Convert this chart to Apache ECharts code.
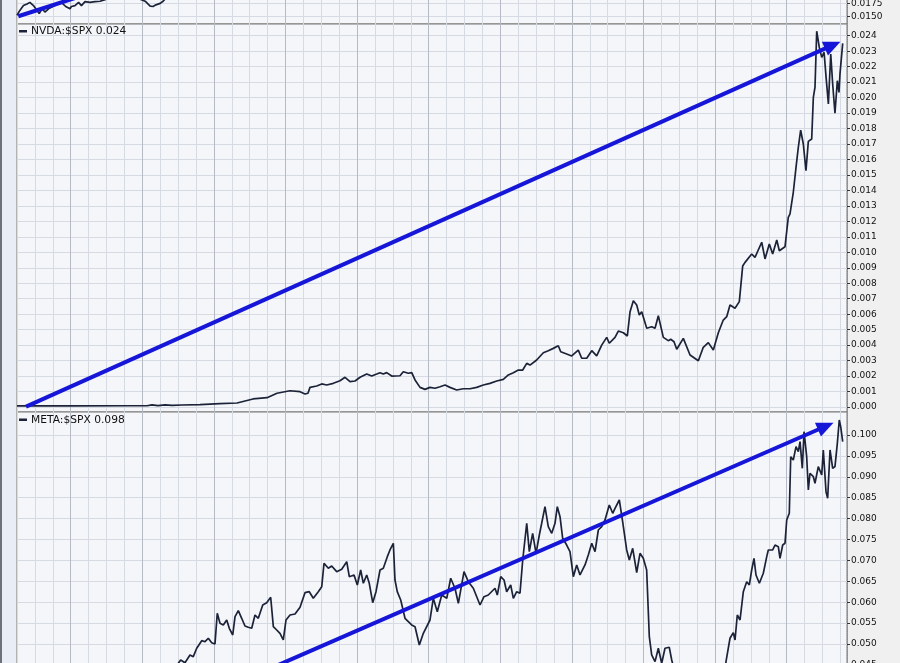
<!DOCTYPE html>
<html><head><meta charset="utf-8">
<script src="https://cdn.jsdelivr.net/npm/echarts@6/dist/echarts.min.js"></script>
<style>html,body{margin:0;padding:0;width:900px;height:663px;overflow:hidden;background:#f0f0f0}
#c{position:absolute;left:0;top:-40px;width:900px;height:740px}</style>
</head><body><div id="c"></div>
<script>
// ---- data (x = decimal year, y = price ratio) ----
const topYears  = [2013.25,2013.29,2013.34,2013.39,2013.43,2013.48,2013.53,2013.56,2013.60,2013.64,2013.69,2013.73,2013.78,2013.83,2013.87,2013.93,2013.99,2014.01,2014.06,2014.11,2014.15,2014.20,2014.27,2014.34,2014.41,2014.48,2014.62,2014.83,2014.97,2015.04,2015.11,2015.15,2015.19,2015.25,2015.29,2015.40];
const topValues = [0.01519,0.01613,0.01706,0.01738,0.01768,0.01706,0.01613,0.0155,0.01644,0.01581,0.01644,0.01674,0.01706,0.01749,0.01768,0.01688,0.01644,0.01688,0.01706,0.01768,0.01706,0.01781,0.01768,0.01781,0.0179,0.0182,0.0195,0.0190,0.0183,0.0179,0.01697,0.01688,0.0172,0.01749,0.0179,0.0195];

const nvdaYears = [2013.25,2014.0,2014.8,2015.066,2015.135,2015.219,2015.317,2015.415,2015.554,2015.806,2016.085,2016.323,2016.546,2016.742,2016.881,2017.063,2017.203,2017.272,2017.314,2017.342,2017.436,2017.506,2017.575,2017.668,2017.761,2017.831,2017.901,2017.971,2018.041,2018.134,2018.204,2018.274,2018.320,2018.366,2018.413,2018.483,2018.599,2018.645,2018.715,2018.763,2018.809,2018.879,2018.948,2019.018,2019.088,2019.158,2019.228,2019.297,2019.391,2019.483,2019.577,2019.670,2019.763,2019.856,2019.950,2020.042,2020.112,2020.182,2020.252,2020.313,2020.369,2020.415,2020.508,2020.601,2020.670,2020.740,2020.810,2020.844,2020.927,2020.997,2021.089,2021.137,2021.207,2021.277,2021.346,2021.416,2021.486,2021.522,2021.602,2021.648,2021.718,2021.774,2021.812,2021.858,2021.905,2021.941,2021.975,2022.045,2022.114,2022.161,2022.207,2022.277,2022.346,2022.380,2022.426,2022.464,2022.556,2022.650,2022.766,2022.835,2022.905,2022.975,2023.045,2023.114,2023.162,2023.208,2023.278,2023.338,2023.385,2023.418,2023.511,2023.557,2023.651,2023.697,2023.757,2023.804,2023.861,2023.897,2023.976,2023.999,2024.022,2024.046,2024.092,2024.130,2024.162,2024.195,2024.232,2024.269,2024.302,2024.349,2024.372,2024.395,2024.419,2024.455,2024.489,2024.522,2024.550,2024.582,2024.615,2024.642,2024.674,2024.707,2024.730,2024.744,2024.782];
const nvdaValues = [0.00007,0.00007,0.00008,0.00008,0.00014,0.00009,0.00014,0.0001,0.00013,0.00016,0.00022,0.00026,0.00052,0.0006,0.00089,0.00105,0.00099,0.00084,0.00089,0.00127,0.00136,0.00149,0.00142,0.00153,0.0017,0.00192,0.00164,0.00168,0.00192,0.00213,0.002,0.00213,0.00222,0.00213,0.00222,0.002,0.00202,0.00228,0.00218,0.00222,0.00175,0.00127,0.00114,0.00127,0.00121,0.00131,0.00142,0.00127,0.0011,0.00118,0.00118,0.00127,0.00142,0.00153,0.00168,0.00179,0.00207,0.00222,0.00239,0.00239,0.00282,0.00271,0.00304,0.00351,0.00364,0.00379,0.00396,0.00357,0.00343,0.0033,0.00368,0.00315,0.00315,0.00364,0.0033,0.004,0.0045,0.00412,0.0045,0.00491,0.0048,0.00459,0.00616,0.00687,0.00659,0.00595,0.00616,0.00509,0.00519,0.00509,0.0059,0.0045,0.00429,0.00438,0.00422,0.00373,0.00444,0.00336,0.00299,0.00386,0.00416,0.00368,0.0048,0.00562,0.00584,0.00659,0.00638,0.00681,0.00911,0.00935,0.00989,0.00967,0.01065,0.00957,0.01054,0.00989,0.0108,0.0101,0.01036,0.01032,0.01226,0.01248,0.01388,0.01549,0.01678,0.0179,0.017,0.01527,0.01717,0.01732,0.02002,0.02067,0.02429,0.02325,0.0226,0.02293,0.02131,0.01959,0.02282,0.02088,0.01899,0.02109,0.02034,0.02153,0.02351];

const metaYears = [2013.25,2013.75,2014.25,2014.75,2015.0,2015.3,2015.45,2015.503,2015.536,2015.596,2015.666,2015.712,2015.760,2015.830,2015.876,2015.922,2015.969,2016.015,2016.047,2016.085,2016.131,2016.179,2016.215,2016.263,2016.295,2016.341,2016.388,2016.434,2016.480,2016.528,2016.574,2016.620,2016.682,2016.737,2016.793,2016.830,2016.877,2016.923,2016.969,2017.007,2017.063,2017.133,2017.203,2017.272,2017.332,2017.388,2017.458,2017.506,2017.538,2017.598,2017.645,2017.715,2017.785,2017.855,2017.891,2017.957,2018.003,2018.050,2018.087,2018.134,2018.170,2018.218,2018.264,2018.320,2018.366,2018.422,2018.459,2018.506,2018.529,2018.561,2018.609,2018.669,2018.762,2018.809,2018.869,2018.925,2019.018,2019.064,2019.120,2019.182,2019.252,2019.307,2019.367,2019.414,2019.493,2019.553,2019.623,2019.717,2019.772,2019.832,2019.926,2019.958,2020.006,2020.052,2020.089,2020.145,2020.182,2020.229,2020.275,2020.313,2020.369,2020.405,2020.452,2020.499,2020.545,2020.578,2020.624,2020.670,2020.718,2020.764,2020.796,2020.834,2020.871,2020.927,2020.973,2021.020,2021.067,2021.113,2021.183,2021.229,2021.277,2021.323,2021.369,2021.416,2021.462,2021.522,2021.570,2021.602,2021.662,2021.709,2021.765,2021.802,2021.849,2021.905,2021.951,2021.997,2022.044,2022.081,2022.114,2022.161,2022.207,2022.254,2022.300,2022.360,2022.394,2022.440,2022.50,2022.60,2022.70,2022.80,2022.87,2022.95,2023.05,2023.12,2023.152,2023.208,2023.254,2023.278,2023.310,2023.348,2023.394,2023.441,2023.478,2023.511,2023.543,2023.571,2023.618,2023.673,2023.721,2023.743,2023.804,2023.837,2023.883,2023.906,2023.944,2023.976,2024.000,2024.036,2024.056,2024.092,2024.130,2024.162,2024.186,2024.218,2024.242,2024.279,2024.302,2024.325,2024.372,2024.395,2024.441,2024.489,2024.511,2024.549,2024.572,2024.605,2024.642,2024.674,2024.707,2024.734,2024.754,2024.782];
const metaValues = [0.017,0.028,0.033,0.037,0.038,0.040,0.043,0.04538,0.04617,0.04553,0.04737,0.04696,0.04897,0.05079,0.05055,0.05137,0.05031,0.05000,0.05735,0.05495,0.05455,0.05574,0.05376,0.05215,0.05653,0.05797,0.05615,0.05431,0.05400,0.05376,0.05694,0.05615,0.05933,0.05988,0.06117,0.05414,0.05335,0.05256,0.05096,0.05574,0.05694,0.05718,0.05878,0.06227,0.06251,0.06093,0.06251,0.06371,0.06931,0.06811,0.06866,0.06730,0.06787,0.06969,0.06610,0.06651,0.06412,0.06770,0.06452,0.06651,0.06452,0.05988,0.06251,0.06770,0.06811,0.07089,0.07249,0.07409,0.06531,0.06251,0.06053,0.05615,0.05455,0.05414,0.04976,0.05256,0.05574,0.06093,0.05773,0.06172,0.06093,0.06572,0.06333,0.05974,0.06730,0.06491,0.06333,0.05933,0.06132,0.06172,0.06333,0.06172,0.06610,0.06531,0.06251,0.06412,0.06093,0.06251,0.06213,0.07010,0.07888,0.07208,0.07648,0.07170,0.07608,0.07888,0.08285,0.07806,0.07648,0.07888,0.08285,0.08045,0.07529,0.07368,0.07208,0.06610,0.06890,0.06651,0.06890,0.07129,0.07409,0.07208,0.07727,0.07806,0.07967,0.08325,0.08127,0.08246,0.08445,0.07919,0.07249,0.07010,0.07290,0.06706,0.07170,0.07050,0.06770,0.05175,0.04737,0.04577,0.04897,0.04538,0.04897,0.04921,0.04617,0.043,0.0415,0.042,0.037,0.026,0.024,0.030,0.038,0.041,0.04577,0.05137,0.05271,0.05096,0.05694,0.05574,0.06251,0.06491,0.06412,0.06770,0.07050,0.06651,0.06452,0.06692,0.07089,0.07249,0.07249,0.07368,0.07328,0.07050,0.07368,0.07409,0.07967,0.08127,0.09481,0.09402,0.09720,0.09600,0.09840,0.09203,0.10079,0.09481,0.08684,0.09084,0.09002,0.08845,0.09242,0.09043,0.09641,0.08644,0.08486,0.09641,0.09203,0.09242,0.09801,0.10359,0.10199,0.09840];

// trend-arrow annotations: [startYear, startValue, endYear, endValue]
const topArrow  = [2013.268, 0.0150, 2015.205, 0.02363];
const nvdaArrow = [2013.376, 0.00002, 2024.642, 0.02339];
const metaArrow = [2016.078, 0.03883, 2024.545, 0.1021];

// tick labels
const topTicks  = [0.0150, 0.0175, 0.0200, 0.0225, 0.0250];
const nvdaTicks = [0.000,0.001,0.002,0.003,0.004,0.005,0.006,0.007,0.008,0.009,0.010,0.011,0.012,0.013,0.014,0.015,0.016,0.017,0.018,0.019,0.020,0.021,0.022,0.023,0.024];
const metaTicks = [0.040,0.045,0.050,0.055,0.060,0.065,0.070,0.075,0.080,0.085,0.090,0.095,0.100];

const xMin = 2013.25, xMax = 2024.842;
const pair = (xs, ys) => xs.map((x, i) => [x, ys[i]]);

const LIGHT = '#d6dae2', DARK = '#b5bac5';
function xAx(gi) {
  return { type: 'value', gridIndex: gi, min: xMin, max: xMax, interval: 0.25,
    axisLine: { show: false }, axisTick: { show: false }, axisLabel: { show: false },
    splitLine: { show: true, lineStyle: { color: [LIGHT, LIGHT, LIGHT, DARK], width: 1 } } };
}
function yAx(gi, mn, mx, ticks, dec) {
  return { type: 'value', gridIndex: gi, position: 'right', min: mn, max: mx,
    axisLine: { show: true, lineStyle: { color: '#8a8a8a', type: 'dotted' } },
    axisTick: { show: true, length: 3, customValues: ticks, lineStyle: { color: '#333' } },
    axisLabel: { show: true, customValues: ticks, margin: 4, fontFamily: 'DejaVu Sans', fontSize: 9, color: '#111',
      formatter: v => Number(v).toFixed(dec) },
    splitLine: { show: true, lineStyle: { color: LIGHT, width: 1 } } };
}
const arrowStyle = { color: '#1616d8', width: 4, type: 'solid' };
function arrowMark(a, head) {
  return { silent: true, symbol: ['none', head ? 'triangle' : 'none'], symbolSize: [15, 17],
    lineStyle: arrowStyle, itemStyle: { color: '#1616d8' }, label: { show: false }, emphasis: { disabled: true },
    data: [[{ coord: [a[0], a[1]] }, { coord: [a[2], a[3]] }]] };
}
function lineSeries(name, gi, xs, ys, arrow, head) {
  return { name, type: 'line', xAxisIndex: gi, yAxisIndex: gi, data: pair(xs, ys), showSymbol: false, symbol: 'none',
    clip: true, lineStyle: { color: '#1c2338', width: 1.7 }, markLine: arrowMark(arrow, head), z: 3 };
}
const gridBase = { left: 17, right: 53, show: true, backgroundColor: '#f4f6fa', borderColor: '#777', borderWidth: 1 };

const chart = echarts.init(document.getElementById('c'), null, { renderer: 'canvas' });
chart.setOption({
  animation: false,
  backgroundColor: '#f0f0f0',
  grid: [
    Object.assign({}, gridBase, { top: 2, height: 62 }),
    Object.assign({}, gridBase, { top: 64, height: 388 }),
    Object.assign({}, gridBase, { top: 452, height: 288 })
  ],
  xAxis: [xAx(0), xAx(1), xAx(2)],
  yAxis: [
    yAx(0, 0.0135, 0.02513, topTicks, 4),
    yAx(1, -0.000323, 0.024758, nvdaTicks, 3),
    yAx(2, 0.0366, 0.1055, metaTicks, 3)
  ],
  series: [
    lineSeries('TOP', 0, topYears, topValues, topArrow, false),
    lineSeries('NVDA:$SPX', 1, nvdaYears, nvdaValues, nvdaArrow, true),
    lineSeries('META:$SPX', 2, metaYears, metaValues, metaArrow, true)
  ],
  graphic: [
    { type: 'rect', left: 0, top: 0, shape: { x: 0, y: 0, width: 16, height: 740 }, style: { fill: '#e9edf5' }, z: -1 },
    { type: 'rect', left: 0, top: 0, shape: { x: 0, y: 0, width: 2, height: 740 }, style: { fill: '#6d717c' }, z: -1 },
    { type: 'rect', shape: { x: 19, y: 70, width: 8, height: 2.5 }, style: { fill: '#1c2338' }, z: 10 },
    { type: 'text', x: 31, y: 71.5, style: { text: 'NVDA:$SPX ' + nvdaValues[nvdaValues.length - 1].toFixed(3),
      fontFamily: 'DejaVu Sans', fontSize: 10.7, fill: '#111', verticalAlign: 'middle' }, z: 10 },
    { type: 'rect', shape: { x: 19, y: 458.5, width: 8, height: 2.5 }, style: { fill: '#1c2338' }, z: 10 },
    { type: 'text', x: 31, y: 460, style: { text: 'META:$SPX ' + metaValues[metaValues.length - 1].toFixed(3),
      fontFamily: 'DejaVu Sans', fontSize: 10.7, fill: '#111', verticalAlign: 'middle' }, z: 10 }
  ]
});
</script></body></html>
